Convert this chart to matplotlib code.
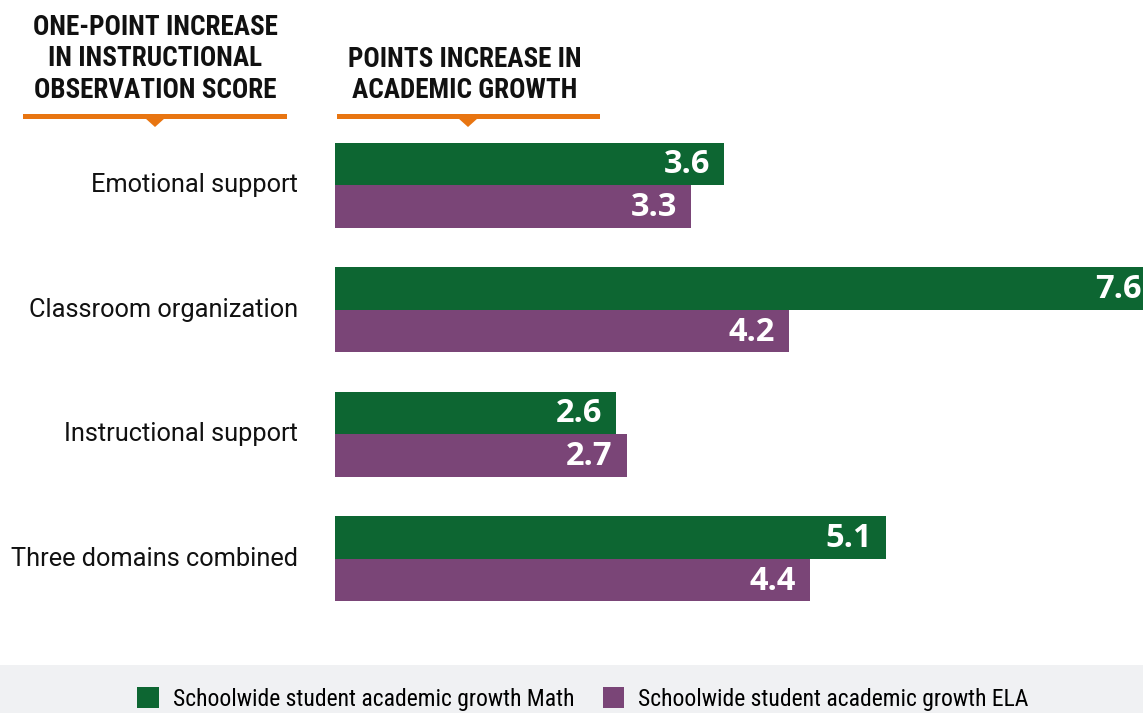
import matplotlib
matplotlib.use("Agg")
import matplotlib.pyplot as plt
from matplotlib.patches import Rectangle, Polygon, Patch
from matplotlib import font_manager

categories = ["Emotional support", "Classroom organization", "Instructional support", "Three domains combined"]
math_vals = [3.6, 7.6, 2.6, 5.1]
ela_vals = [3.3, 4.2, 2.7, 4.4]
series_names = ["Schoolwide student academic growth Math", "Schoolwide student academic growth ELA"]
header_left = "ONE-POINT INCREASE\nIN INSTRUCTIONAL\nOBSERVATION SCORE"
header_right = "POINTS INCREASE IN\nACADEMIC GROWTH"

GREEN = "#0d6632"
PURPLE = "#7a4577"
ORANGE = "#e87511"
GRAY_BG = "#f0f1f3"

W, H = 1143, 713
fig = plt.figure(figsize=(W / 100, H / 100), dpi=100)
fig.patch.set_facecolor("white")

def fx(px):
    return px / W

def fy(py):
    return 1 - py / H

names = {f.name for f in font_manager.fontManager.ttflist}
condensed = "Roboto Condensed" in names
narrow = ["Roboto Condensed", "Roboto", "DejaVu Sans"] if condensed else ["Roboto", "DejaVu Sans"]
bold_num = ["Open Sans", "DejaVu Sans"]

# main axes
ax_left, ax_right = 335, 1143
ax_top, ax_bot = 123, 621
ax = fig.add_axes([fx(ax_left), fy(ax_bot), fx(ax_right - ax_left), (ax_bot - ax_top) / H])
ax.set_xlim(0, (ax_right - ax_left) / 108.0)
ax.set_ylim(len(categories) - 0.5, -0.5)
ax.axis("off")

bh = 0.342
ys = list(range(len(categories)))
ax.barh([y - bh / 2 for y in ys], math_vals, height=bh, color=GREEN, linewidth=0)
ax.barh([y + bh / 2 for y in ys], ela_vals, height=bh, color=PURPLE, linewidth=0)

for y, v in zip(ys, math_vals):
    ax.annotate(f"{v:.1f}", xy=(v, y - bh / 2), xytext=(-14, -1), textcoords="offset pixels",
                ha="right", va="center", color="white", fontsize=23.5, fontweight="bold",
                family=bold_num, annotation_clip=False)
for y, v in zip(ys, ela_vals):
    ax.annotate(f"{v:.1f}", xy=(v, y + bh / 2), xytext=(-14, -1), textcoords="offset pixels",
                ha="right", va="center", color="white", fontsize=23.5, fontweight="bold",
                family=bold_num, annotation_clip=False)

for y, c in zip(ys, categories):
    ax.annotate(c, xy=(0, y), xytext=(-37, 0), textcoords="offset pixels",
                ha="right", va="center", color="#111111", fontsize=18.3,
                family=["Roboto", "DejaVu Sans"], annotation_clip=False)

hsize = 19.5 if condensed else 17
ls = 1.22 if condensed else 1.35
# headers
fig.text(fx(155), fy(59), header_left, ha="center", va="center", fontsize=hsize,
         fontweight="bold", family=narrow, linespacing=ls, color="#111111")
fig.text(fx(465), fy(75), header_right, ha="center", va="center", fontsize=hsize,
         fontweight="bold", family=narrow, linespacing=ls, color="#111111")

def orange_rule(x0, x1, xc):
    fig.add_artist(Rectangle((fx(x0), fy(119)), fx(x1 - x0), 5 / H, transform=fig.transFigure,
                             facecolor=ORANGE, edgecolor="none"))
    fig.add_artist(Polygon([(fx(xc - 10), fy(118)), (fx(xc + 10), fy(118)), (fx(xc), fy(127))],
                           closed=True, transform=fig.transFigure, facecolor=ORANGE, edgecolor="none"))

orange_rule(23, 287, 155)
orange_rule(337, 600, 468)

# legend band
fig.add_artist(Rectangle((0, 0), 1, fy(665), transform=fig.transFigure,
                         facecolor=GRAY_BG, edgecolor="none", zorder=0))
handles = [Patch(facecolor=GREEN, edgecolor="none"), Patch(facecolor=PURPLE, edgecolor="none")]
leg = fig.legend(handles, series_names, loc="center", bbox_to_anchor=(fx(583), fy(699)),
                 ncol=2, frameon=False, handlelength=0.9, handleheight=1.0,
                 handletextpad=0.6, columnspacing=1.2,
                 prop={"family": narrow, "size": 17 if condensed else 15})

fig.savefig("out.png", dpi=100, facecolor="white")
